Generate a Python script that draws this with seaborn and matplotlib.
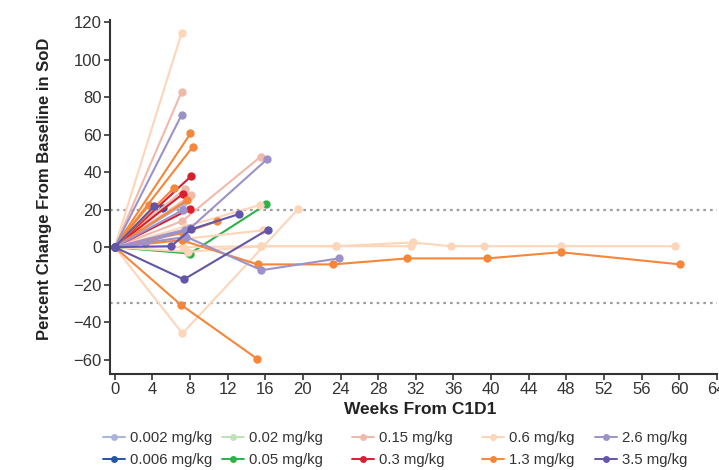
import numpy as np
import pandas as pd
import matplotlib
matplotlib.use("Agg")
import matplotlib.pyplot as plt
import seaborn as sns

# long format: one row per assessment
patient = [1, 1, 2, 2, 3, 3, 4, 4, 5, 5, 6, 6, 7, 7, 8, 8, 9, 9, 10, 10,
           11, 11, 12, 12, 13, 13, 14, 14, 15, 15, 16, 16, 17, 17, 18, 18,
           19, 19, 19, 20, 20, 20, 21, 21, 21, 22, 22, 22, 23, 23, 23,
           24, 24, 24, 24, 25, 25, 25, 26, 26, 26, 27, 27, 27,
           28, 28, 28, 28,
           29, 29, 29, 29, 29, 29, 29, 29,
           30, 30, 30,
           31, 31, 31, 31, 31, 31, 31, 31, 31,
           32, 32, 32, 32, 32,
           33, 33, 33, 34, 34]
week = [0, 7.1, 0, 7.1, 0, 7.1, 0, 8.05, 0, 8.3, 0, 8.15, 0, 6.3, 0, 7.45, 0, 7.3, 0, 8.15,
        0, 7.9, 0, 7.7, 0, 3.65, 0, 4.2, 0, 5.1, 0, 7.2, 0, 7.3, 0, 8.0,
        0, 7.2, 15.5, 0, 8.0, 16.2, 0, 7.5, 15.4, 0, 8.0, 16.1, 0, 7.2, 19.5,
        0, 6.0, 8.1, 13.2, 0, 7.3, 10.9, 0, 7.6, 15.8, 0, 7.35, 16.3,
        0, 7.6, 15.6, 23.8,
        0, 7.1, 15.2, 23.2, 31.1, 39.6, 47.4, 60.1,
        0, 7.0, 15.1,
        0, 7.3, 15.5, 23.5, 31.7, 35.7, 39.2, 47.4, 59.5,
        0, 7.8, 15.5, 23.5, 31.5,
        0, 3.2, 7.5, 0, 7.8]
change = [0, 114, 0, 82.7, 0, 70.4, 0, 60.6, 0, 53.5, 0, 38, 0, 31.6, 0, 31, 0, 28.6, 0, 27.7,
          0, 26.5, 0, 25, 0, 22.4, 0, 22, 0, 21, 0, 22.4, 0, 20, 0, 20.3,
          0, 14, 48.2, 0, 10, 46.9, 0, 11, 22.4, 0, -3.4, 22.8, 0, -46, 20.3,
          0, 0.5, 9.5, 17.6, 0, 7.6, 13.8, 0, 4.5, 9, 0, -17.2, 9.4,
          0, 5.5, -12.3, -6,
          0, 3.7, -9.2, -9.2, -6, -6, -2.7, -9.2,
          0, -30.6, -59.4,
          0, 0, 0.5, 0.5, 2.5, 0.5, 0.5, 0.5, 0.5,
          0, -2.5, 0.5, 0.5, 0.5,
          0, 2.3, 9, 0, -3]
patient_dose = {1: "0.6", 2: "0.15", 3: "2.6", 4: "1.3", 5: "1.3", 6: "0.3", 7: "1.3",
                8: "0.15", 9: "0.3", 10: "0.15", 11: "0.02", 12: "1.3", 13: "1.3",
                14: "3.5", 15: "0.006", 16: "0.002", 17: "2.6", 18: "0.3", 19: "0.15",
                20: "2.6", 21: "0.6", 22: "0.05", 23: "0.6", 24: "3.5", 25: "1.3",
                26: "0.6", 27: "3.5", 28: "2.6", 29: "1.3", 30: "1.3", 31: "0.6",
                32: "0.6", 33: "2.6", 34: "0.02"}

doses = ["0.002", "0.006", "0.02", "0.05", "0.15", "0.3", "0.6", "1.3", "2.6", "3.5"]
dose_colors = ["#a9b4dd", "#2356a5", "#bfe2ba", "#2cb24b", "#f0b9a9",
               "#d81f30", "#fdd5b9", "#f5863a", "#9c92c9", "#6156a8"]

df = pd.DataFrame({"patient": patient, "week": week, "change": change})
df["dose"] = df["patient"].map(patient_dose) + " mg/kg"
labels = [d + " mg/kg" for d in doses]
palette = dict(zip(labels, dose_colors))

sns.set_style("ticks")
plt.rcParams["font.family"] = ["Liberation Sans", "DejaVu Sans"]

fig, ax = plt.subplots(figsize=(7.19, 4.70), dpi=100)
fig.subplots_adjust(left=0.153, right=0.997, bottom=0.204, top=0.957)

# reference lines for PD / PR thresholds
ax.axhline(20, color="#9e9e9e", lw=1.6, ls=(0, (1.2, 1.8)), zorder=0)
ax.axhline(-30, color="#9e9e9e", lw=1.6, ls=(0, (1.2, 1.8)), zorder=0)

sns.lineplot(data=df, x="week", y="change", hue="dose", units="patient",
             estimator=None, hue_order=labels, palette=palette, marker="o",
             markersize=6, markeredgewidth=0, linewidth=1.5, legend=False, ax=ax)

ax.set_xlim(-0.5, 64)
ax.set_ylim(-67.7, 121)
ax.set_xticks(np.arange(0, 65, 4))
ax.set_yticks(np.arange(-60, 121, 20))
ax.set_yticklabels([str(v).replace("-", "\u2212") for v in range(-60, 121, 20)])
ax.tick_params(labelsize=12, colors="#333333", length=4, width=1.2, pad=2)
for s in ["left", "bottom"]:
    ax.spines[s].set_color("#333333")
    ax.spines[s].set_linewidth(1.5)
sns.despine(ax=ax)

ax.set_xlabel("Weeks From C1D1", fontsize=12.5, fontweight="bold", color="#222222")
ax.set_ylabel("Percent Change From Baseline in SoD", fontsize=12, fontweight="bold",
              color="#222222")
ax.xaxis.set_label_coords(0.511, -0.08)
ax.yaxis.set_label_coords(-0.095, 0.523)

# legend: 5 columns of 2 entries each, placed like the reference
handles = [plt.Line2D([], [], color=c, marker="o", markersize=5, lw=1.4, markeredgewidth=0)
           for c in dose_colors]
col_x = [103, 222, 352, 482, 595]
for i, x0 in enumerate(col_x):
    leg = fig.legend(handles[2 * i:2 * i + 2], labels[2 * i:2 * i + 2], loc="upper left",
                     bbox_to_anchor=(x0 / 719, 1 - 431 / 470), frameon=False, fontsize=10.7,
                     handlelength=1.45, handletextpad=0.35, labelspacing=0.55,
                     borderaxespad=0, borderpad=0)
    for t in leg.get_texts():
        t.set_color("#333333")

fig.savefig("out.png", dpi=100)
